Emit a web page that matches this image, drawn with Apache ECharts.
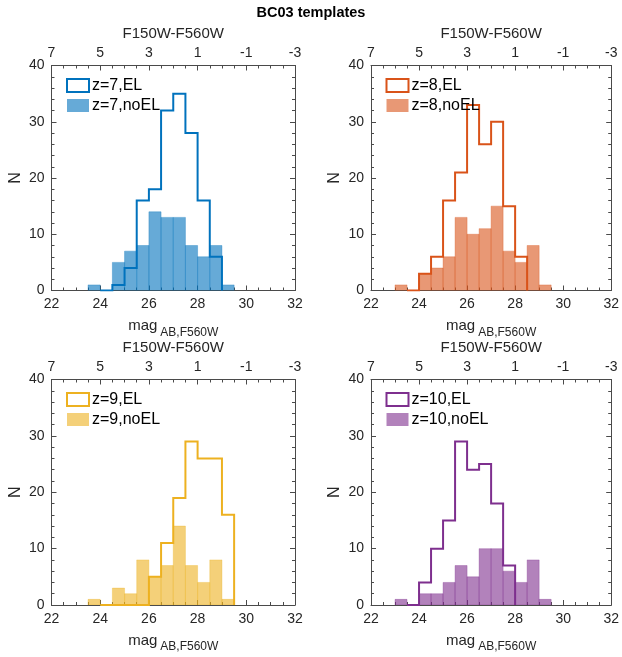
<!DOCTYPE html>
<html>
<head>
<meta charset="utf-8">
<title>BC03 templates</title>
<script src="https://cdn.jsdelivr.net/npm/echarts@6/dist/echarts.min.js"></script>
<style>
  html, body { margin: 0; padding: 0; background: #fff; }
  #chart { width: 622px; height: 657px; }
</style>
</head>
<body>
<div id="chart"></div>
<script>
// Histogram bins: width 0.5 mag, each series given by its first left edge and counts
const binWidth = 0.5;

const z7ElStart = 24;
const z7ElCounts = [0, 1, 4, 16, 18, 32, 35, 28, 16, 6];
const z7NoElStart = 23.5;
const z7NoElCounts = [1, 0, 5, 7, 8, 14, 13, 13, 8, 6, 8, 1];

const z8ElStart = 23.5;
const z8ElCounts = [0, 3, 6, 16, 21, 33, 26, 30, 15, 6];
const z8NoElStart = 23;
const z8NoElCounts = [1, 0, 3, 4, 6, 13, 10, 11, 15, 7, 5, 8, 1];

const z9ElStart = 24;
const z9ElCounts = [0, 0, 0, 0, 5, 11, 19, 29, 26, 26, 16];
const z9NoElStart = 23.5;
const z9NoElCounts = [1, 0, 3, 2, 8, 5, 7, 14, 7, 4, 8, 1];

const z10ElStart = 23.5;
const z10ElCounts = [0, 4, 10, 15, 29, 24, 25, 18, 7];
const z10NoElStart = 23;
const z10NoElCounts = [1, 0, 2, 2, 4, 7, 5, 10, 10, 6, 4, 8, 1];

const panelNames = ['z=7', 'z=8', 'z=9', 'z=10'];
const panelColors = ['#0072BD', '#D95319', '#EDB120', '#7E2F8E'];

// Axis ticks
const magTicks = [22, 24, 26, 28, 30, 32];
const colourTickLabels = ['7', '5', '3', '1', '-1', '-3'];
const countTicks = [0, 10, 20, 30, 40];

const panels = [
  { el: [z7ElStart, z7ElCounts], noEl: [z7NoElStart, z7NoElCounts] },
  { el: [z8ElStart, z8ElCounts], noEl: [z8NoElStart, z8NoElCounts] },
  { el: [z9ElStart, z9ElCounts], noEl: [z9NoElStart, z9NoElCounts] },
  { el: [z10ElStart, z10ElCounts], noEl: [z10NoElStart, z10NoElCounts] }
];

// Layout of the 2x2 panels
const grids = [
  { left: 51.5, top: 65.5, width: 243.5, height: 225 },
  { left: 371, top: 65.5, width: 243.5, height: 225 },
  { left: 51.5, top: 379.5, width: 243.5, height: 225.5 },
  { left: 371, top: 379.5, width: 243.5, height: 225.5 }
];

const FONT = "'Liberation Sans', Arial, Helvetica, sans-serif";
const AXIS_COLOR = '#4a4a4a';
const LABEL_COLOR = '#262626';

function rgba(hex, a) {
  const n = parseInt(hex.slice(1), 16);
  return `rgba(${(n >> 16) & 255},${(n >> 8) & 255},${n & 255},${a})`;
}

// Stairs outline: rise from zero at the first edge, step across each bin, drop at the last edge
function stairsPoints(start, counts) {
  const pts = [[start, 0]];
  counts.forEach((c, i) => pts.push([start + i * binWidth, c]));
  pts.push([start + counts.length * binWidth, 0]);
  return pts;
}

// Filled bins as [left edge, right edge, count]
function binRows(start, counts) {
  return counts.map((c, i) => [start + i * binWidth, start + (i + 1) * binWidth, c]);
}

function renderBin(fill, stroke) {
  return function (params, api) {
    const h = api.value(2);
    if (!h) return null;
    const p0 = api.coord([api.value(0), h]);
    const p1 = api.coord([api.value(1), 0]);
    return {
      type: 'rect',
      shape: { x: p0[0], y: p0[1], width: p1[0] - p0[0], height: p1[1] - p0[1] },
      style: { fill: fill, stroke: stroke, lineWidth: 0.7 }
    };
  };
}

const axisLine = { show: true, onZero: false, lineStyle: { color: AXIS_COLOR, width: 1 } };
const axisTick = { show: true, inside: true, length: 5, lineStyle: { color: AXIS_COLOR, width: 1 } };
const minorTickX = { show: true, splitNumber: 4, length: 3, lineStyle: { color: AXIS_COLOR, width: 1 } };
const minorTickY = { show: true, splitNumber: 5, length: 3, lineStyle: { color: AXIS_COLOR, width: 1 } };

const xAxes = [], yAxes = [], series = [], legends = [];

panels.forEach((p, i) => {
  const color = panelColors[i];
  const fill = rgba(color, 0.6);
  const edge = rgba(color, 0.45);
  const elName = panelNames[i] + ',EL';
  const noElName = panelNames[i] + ',noEL';

  xAxes.push({
    gridIndex: i, type: 'value', position: 'bottom',
    min: magTicks[0], max: magTicks[magTicks.length - 1], interval: magTicks[1] - magTicks[0],
    axisLine, axisTick, minorTick: minorTickX, splitLine: { show: false },
    axisLabel: { fontSize: 14, color: LABEL_COLOR, margin: 7, fontFamily: FONT },
    name: '{m|mag}{s|AB,F560W}', nameLocation: 'middle', nameGap: 28,
    nameTextStyle: {
      color: LABEL_COLOR, fontFamily: FONT,
      rich: {
        m: { fontSize: 15, lineHeight: 16, verticalAlign: 'top', fontFamily: FONT, color: LABEL_COLOR, padding: [0, 3, 0, 0] },
        s: { fontSize: 12, lineHeight: 14, verticalAlign: 'top', fontFamily: FONT, color: LABEL_COLOR, padding: [8, 0, 0, 0] }
      }
    }
  });
  xAxes.push({
    gridIndex: i, type: 'value', position: 'top',
    min: magTicks[0], max: magTicks[magTicks.length - 1], interval: magTicks[1] - magTicks[0],
    axisLine, axisTick, minorTick: minorTickX, splitLine: { show: false },
    axisLabel: {
      fontSize: 14, color: LABEL_COLOR, margin: 5, fontFamily: FONT,
      formatter: v => colourTickLabels[magTicks.indexOf(v)]
    },
    name: 'F150W-F560W', nameLocation: 'middle', nameGap: 24,
    nameTextStyle: { fontSize: 15, color: LABEL_COLOR, fontFamily: FONT }
  });
  yAxes.push({
    gridIndex: i, type: 'value', position: 'left',
    min: countTicks[0], max: countTicks[countTicks.length - 1], interval: countTicks[1] - countTicks[0],
    axisLine, axisTick, minorTick: minorTickY, splitLine: { show: false },
    axisLabel: { fontSize: 14, color: LABEL_COLOR, margin: 7, fontFamily: FONT },
    name: 'N', nameLocation: 'middle', nameGap: 28, nameRotate: 90,
    nameTextStyle: { fontSize: 16, color: LABEL_COLOR, fontFamily: FONT }
  });
  yAxes.push({
    gridIndex: i, type: 'value', position: 'right',
    min: countTicks[0], max: countTicks[countTicks.length - 1], interval: countTicks[1] - countTicks[0],
    axisLine, axisTick, minorTick: minorTickY, splitLine: { show: false },
    axisLabel: { show: false }
  });

  series.push({
    name: noElName, type: 'custom', xAxisIndex: 2 * i, yAxisIndex: 2 * i, z: 2,
    renderItem: renderBin(fill, edge), clip: true,
    encode: { x: [0, 1], y: 2 },
    itemStyle: { color: fill },
    data: binRows(p.noEl[0], p.noEl[1])
  });
  series.push({
    name: elName, type: 'line', xAxisIndex: 2 * i, yAxisIndex: 2 * i, z: 3,
    step: 'end', symbol: 'none', clip: true,
    lineStyle: { color: color, width: 2, cap: 'butt', join: 'miter' },
    itemStyle: { color: color },
    data: stairsPoints(p.el[0], p.el[1])
  });

  legends.push({
    left: grids[i].left + 14.5, top: grids[i].top + 12,
    orient: 'vertical', padding: 0, itemGap: 4,
    itemWidth: 22, itemHeight: 13, selectedMode: false,
    textStyle: { fontSize: 16, color: '#000', fontFamily: FONT, padding: [0, 0, 0, -2] },
    data: [
      { name: elName, icon: 'rect', itemStyle: { color: '#fff', borderColor: color, borderWidth: 2 } },
      { name: noElName, icon: 'rect', itemStyle: { color: fill, borderWidth: 0 } }
    ]
  });
});

const chart = echarts.init(document.getElementById('chart'), null, { renderer: 'canvas' });
chart.setOption({
  animation: false,
  backgroundColor: '#fff',
  textStyle: { fontFamily: FONT },
  title: {
    text: 'BC03 templates', left: 'center', top: 0,
    textStyle: { fontSize: 14.5, fontWeight: 'bold', color: '#000', fontFamily: FONT }
  },
  grid: grids.map(g => Object.assign({ show: false, containLabel: false }, g)),
  xAxis: xAxes,
  yAxis: yAxes,
  legend: legends,
  series: series
});
</script>
</body>
</html>
